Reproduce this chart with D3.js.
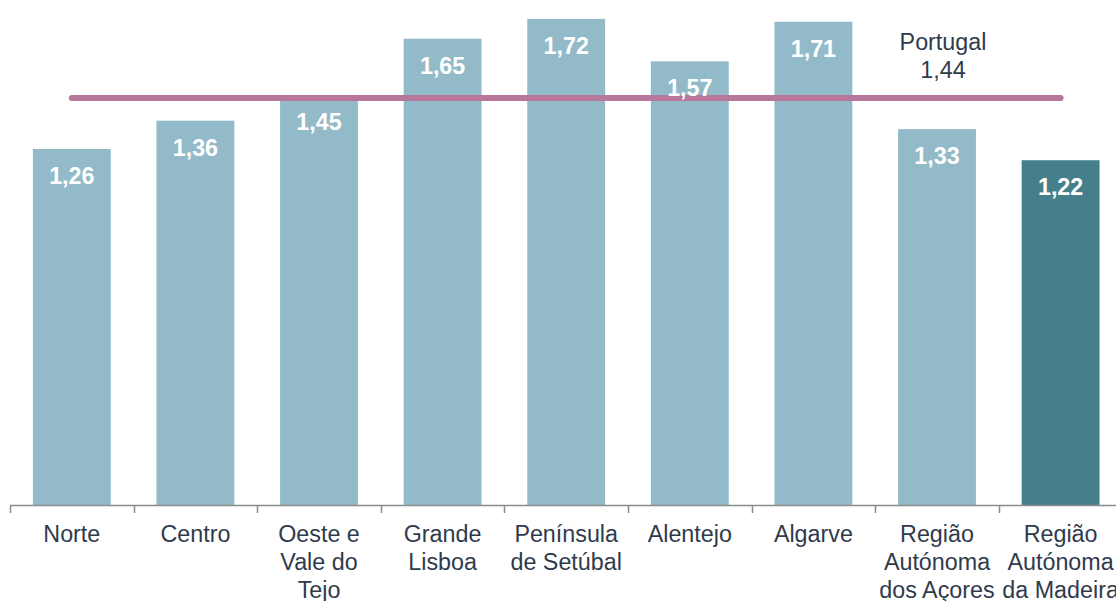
<!DOCTYPE html>
<html>
<head>
<meta charset="utf-8">
<script src="https://cdn.jsdelivr.net/npm/d3@7"></script>
<style>
  html, body { margin: 0; padding: 0; background: #fff; overflow: hidden; }
  text { font-family: Arial, "Liberation Sans", sans-serif; }
</style>
</head>
<body>
<div id="chart"></div>
<script>
(function(){
    // data
    var categories = [
        ['Norte'],
        ['Centro'],
        ['Oeste e', 'Vale do', 'Tejo'],
        ['Grande', 'Lisboa'],
        ['Península', 'de Setúbal'],
        ['Alentejo'],
        ['Algarve'],
        ['Região', 'Autónoma', 'dos Açores'],
        ['Região', 'Autónoma', 'da Madeira']
    ];
    var values = [1.26, 1.36, 1.45, 1.65, 1.72, 1.57, 1.71, 1.33, 1.22];
    var highlighted = [false, false, false, false, false, false, false, false, true];
    var refName = 'Portugal';
    var refValue = 1.44;

    // layout
    var WIDTH       = 1116,
        HEIGHT      = 601,
        BASE_Y      = 505,   // x axis position
        AXIS_LEFT   = 10,
        STEP        = 123.6, // width of one category
        PX_PER_UNIT = 282.6,
        FONT_SIZE   = 23.3,
        LINE_H      = 27.8;

    var BAR_COLOR   = '#93BAC8',
        HI_COLOR    = '#447F8B',
        REF_COLOR   = '#B7779A',
        TEXT_COLOR  = '#2F3B4C',
        AXIS_COLOR  = '#8C8C8C';

    var fmt = function(v){ return d3.format('.2f')(v).replace('.', ','); };

    var svg = d3.select('#chart').append('svg')
        .attr('width', WIDTH)
        .attr('height', HEIGHT);

    var idx = d3.range(categories.length);

    var x = d3.scaleBand()
        .domain(idx)
        .range([AXIS_LEFT, AXIS_LEFT + STEP * idx.length])
        .paddingInner(0.37)
        .paddingOuter(0.185);

    var y = d3.scaleLinear()
        .domain([0, 1.75])
        .range([BASE_Y, BASE_Y - 1.75 * PX_PER_UNIT]);

    // bars
    svg.selectAll('rect.bar')
        .data(values)
        .enter().append('rect')
        .attr('class', 'bar')
        .attr('x', function(d, i){ return x(i); })
        .attr('y', function(d){ return y(d); })
        .attr('width', x.bandwidth())
        .attr('height', function(d){ return y(0) - y(d); })
        .attr('fill', function(d, i){ return highlighted[i] ? HI_COLOR : BAR_COLOR; });

    // reference line (Portugal)
    var cx = function(i){ return x(i) + x.bandwidth() / 2; };
    svg.append('line')
        .attr('x1', cx(0))
        .attr('x2', cx(idx.length - 1))
        .attr('y1', y(refValue))
        .attr('y2', y(refValue))
        .attr('stroke', REF_COLOR)
        .attr('stroke-width', 6)
        .attr('stroke-linecap', 'round');

    // value labels
    svg.selectAll('text.val')
        .data(values)
        .enter().append('text')
        .attr('class', 'val')
        .attr('x', function(d, i){ return cx(i); })
        .attr('y', function(d){ return y(d) + 35; })
        .attr('text-anchor', 'middle')
        .attr('fill', '#fff')
        .attr('font-weight', 'bold')
        .attr('font-size', FONT_SIZE)
        .text(fmt);

    // reference label
    var refLabel = svg.append('text')
        .attr('text-anchor', 'middle')
        .attr('fill', TEXT_COLOR)
        .attr('font-size', FONT_SIZE);
    refLabel.append('tspan')
        .attr('x', cx(7) + 6).attr('y', 50)
        .text(refName);
    refLabel.append('tspan')
        .attr('x', cx(7) + 6).attr('y', 78)
        .text(fmt(refValue));

    // x axis
    var axis = svg.append('g');
    axis.append('line')
        .attr('x1', AXIS_LEFT).attr('x2', WIDTH)
        .attr('y1', BASE_Y + 0.5).attr('y2', BASE_Y + 0.5)
        .attr('stroke', AXIS_COLOR).attr('stroke-width', 1.5);
    axis.selectAll('line.tick')
        .data(idx)
        .enter().append('line')
        .attr('class', 'tick')
        .attr('x1', function(i){ return Math.round(x(i) - x.step() * x.paddingInner() / 2) + 0.5; })
        .attr('x2', function(i){ return Math.round(x(i) - x.step() * x.paddingInner() / 2) + 0.5; })
        .attr('y1', BASE_Y)
        .attr('y2', BASE_Y + 8)
        .attr('stroke', AXIS_COLOR).attr('stroke-width', 1.5);

    // category labels
    var labels = axis.selectAll('text.cat')
        .data(categories)
        .enter().append('text')
        .attr('class', 'cat')
        .attr('text-anchor', 'middle')
        .attr('fill', TEXT_COLOR)
        .attr('font-size', FONT_SIZE);
    labels.each(function(lines, i){
        var t = d3.select(this);
        lines.forEach(function(s, k){
            t.append('tspan')
                .attr('x', cx(i))
                .attr('y', BASE_Y + 37 + k * LINE_H)
                .text(s);
        });
    });
})();
</script>
</body>
</html>
